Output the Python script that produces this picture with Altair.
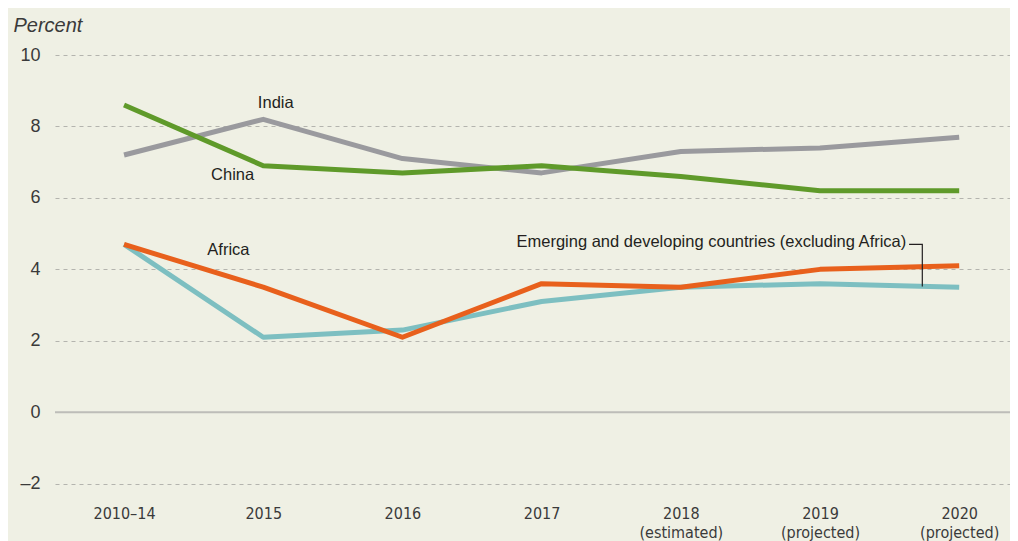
import altair as alt
import pandas as pd

# ---- data ----
periods = ["2010–14", "2015", "2016", "2017", "2018", "2019", "2020"]
period_notes = ["", "", "", "", "(estimated)", "(projected)", "(projected)"]
china = [8.6, 6.9, 6.7, 6.9, 6.6, 6.2, 6.2]
india = [7.2, 8.2, 7.1, 6.7, 7.3, 7.4, 7.7]
africa = [4.7, 3.5, 2.1, 3.6, 3.5, 4.0, 4.1]
emerging = [4.7, 2.1, 2.3, 3.1, 3.5, 3.6, 3.5]

series_names = ["India", "Emerging and developing countries (excluding Africa)", "China", "Africa"]
series_values = [india, emerging, china, africa]
series_colors = ["#9a9a9e", "#7dbfc1", "#5f9a2a", "#e8601c"]

# annotation labels (data coordinates: period index, percent)
label_text = ["India", "China", "Africa", "Emerging and developing countries (excluding Africa)"]
label_x = [1.09, 0.78, 0.75, 5.62]
label_y = [8.67, 6.63, 4.53, 4.76]
label_align = ["center", "center", "center", "right"]
# leader line from the long label down to its series
leader_x = [5.64, 5.735, 5.735]
leader_y = [4.70, 4.70, 3.52]

rows = []
for name, vals in zip(series_names, series_values):
    for i, v in enumerate(vals):
        rows.append({"series": name, "idx": i, "value": v, "order": i})
df = pd.DataFrame(rows)

labels_df = pd.DataFrame({"text": label_text, "x": label_x, "y": label_y, "align": label_align})
leader_df = pd.DataFrame({"x": leader_x, "y": leader_y, "o": [0, 1, 2]})
zero_df = pd.DataFrame({"y": [0]})

FONT = "Liberation Sans"
COND = "'DejaVu Sans Condensed', 'Liberation Sans Narrow', 'Liberation Sans', sans-serif"

expr = "''"
for i in reversed(range(len(periods))):
    p, n = periods[i], period_notes[i]
    val = ("['%s','%s']" % (p, n)) if n else ("'%s'" % p)
    expr = "datum.value == %d ? %s : (%s)" % (i, val, expr)

x_scale = alt.Scale(domain=[-0.496, 6.365], nice=False, zero=False)
y_scale = alt.Scale(domain=[-2.4, 10], nice=False, zero=False)

x_axis = alt.Axis(
    title=None, values=list(range(len(periods))), labelExpr=expr,
    grid=False, domain=False, ticks=False,
    labelFont=COND, labelFontSize=16, labelColor="#3a3a3a",
    labelBaseline="top", labelPadding=7, labelLineHeight=19, labelFlush=False,
)
y_axis = alt.Axis(
    title="Percent", titleAngle=0, titleAlign="left", titleBaseline="alphabetic",
    titleX=-42, titleY=-24, titleFont=FONT, titleFontStyle="italic",
    titleFontWeight="normal", titleFontSize=20, titleColor="#3a3a3a",
    values=[-2, 0, 2, 4, 6, 8, 10], labelExpr="datum.value < 0 ? '–' + abs(datum.value) : datum.label",
    grid=True, gridDash=[4, 4], gridColor="#b4b4ae", gridWidth=1.2,
    domain=False, ticks=False, labelPadding=15,
    labelFont=FONT, labelFontSize=18, labelColor="#3a3a3a",
)

base = alt.Chart(df)

zero_rule = alt.Chart(zero_df).mark_rule(color="#bdbdb8", strokeWidth=2).encode(
    y=alt.Y("y:Q", scale=y_scale, axis=y_axis)
)

lines = base.mark_line(strokeWidth=5, strokeCap="butt", strokeJoin="round").encode(
    x=alt.X("idx:Q", scale=x_scale, axis=x_axis),
    y=alt.Y("value:Q", scale=y_scale),
    color=alt.Color("series:N", scale=alt.Scale(domain=series_names, range=series_colors), legend=None),
    order="order:Q",
    detail="series:N",
)

layers = [zero_rule]
for name in series_names:
    layers.append(lines.transform_filter(alt.datum.series == name))

leader = alt.Chart(leader_df).mark_line(color="#231f20", strokeWidth=1.2).encode(
    x=alt.X("x:Q", scale=x_scale), y=alt.Y("y:Q", scale=y_scale), order="o:Q"
)

texts_c = alt.Chart(labels_df).transform_filter(alt.datum.align == "center").mark_text(
    font=FONT, fontSize=16.5, color="#231f20", align="center", baseline="middle"
).encode(x=alt.X("x:Q", scale=x_scale), y=alt.Y("y:Q", scale=y_scale), text="text:N")
texts_r = alt.Chart(labels_df).transform_filter(alt.datum.align == "right").mark_text(
    font=FONT, fontSize=16.5, color="#231f20", align="right", baseline="middle"
).encode(x=alt.X("x:Q", scale=x_scale), y=alt.Y("y:Q", scale=y_scale), text="text:N")

chart = alt.layer(*layers, leader, texts_c, texts_r).properties(
    width=955, height=443,
    autosize=alt.AutoSizeParams(type="none"),
    padding={"left": 47, "top": 47, "right": 0, "bottom": 45},
    background="#eff0e4",
).configure_view(stroke=None, fill="#eff0e4")

chart.save("out.html", embed_options={"renderer": "svg", "actions": False})
